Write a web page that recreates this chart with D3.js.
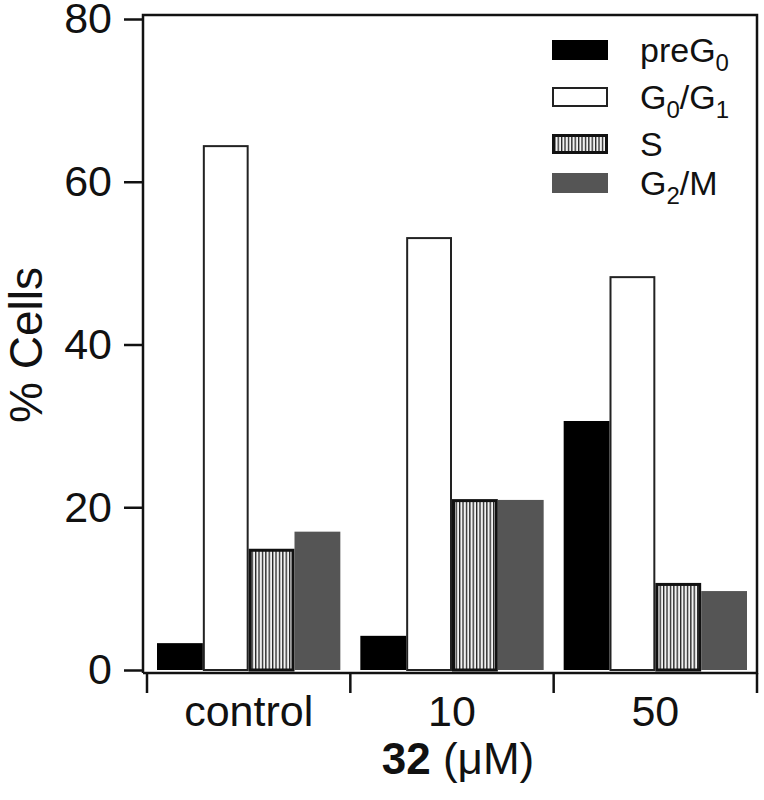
<!DOCTYPE html>
<html><head><meta charset="utf-8">
<script src="https://cdn.jsdelivr.net/npm/d3@7"></script>
<style>
body{margin:0;background:#fff;}
svg{display:block;}
text{font-family:"Liberation Sans",Arial,Helvetica,sans-serif;fill:#111;}
</style>
</head><body>
<svg id="chart" width="764" height="800"></svg>
<script>
// ---- data ----
const categories = ["control", "10", "50"];
const seriesKeys = ["preG0", "G0G1", "S", "G2M"];
const legendLabels = ["preG_0", "G_0/G_1", "S", "G_2/M"];
const preG0 = [3.3, 4.2, 30.6];
const G0G1 = [64.5, 53.2, 48.4];
const Sphase = [14.9, 21.0, 10.7];
const G2M = [17.0, 20.9, 9.7];
const yTicks = [0, 20, 40, 60, 80];
const yLabel = "% Cells";
const xLabelBold = "32";
const xLabelRest = " (\u03BCM)";

const seriesValues = {preG0: preG0, G0G1: G0G1, S: Sphase, G2M: G2M};

// ---- layout ----
const svg = d3.select("#chart");
const frame = {left: 143, right: 757, top: 15, bottom: 673};
const y = d3.scaleLinear().domain([0, 80]).range([670, 19]);
const xGroup = d3.scaleBand().domain(categories).range([147, 757]).padding(0);
const bw = xGroup.bandwidth();
const xInner = d3.scaleBand().domain(seriesKeys).range([10, bw - 10]).padding(0);

// pattern for S
const defs = svg.append("defs");
const pat = defs.append("pattern").attr("id", "stripes")
  .attr("patternUnits", "userSpaceOnUse").attr("width", 3.4).attr("height", 10);
pat.append("rect").attr("width", 3.4).attr("height", 10).attr("fill", "#f2f2f2");
pat.append("rect").attr("width", 1.3).attr("height", 10).attr("fill", "#222");

const styles = {
  preG0: {fill: "#000", stroke: "none", sw: 0},
  G0G1: {fill: "#fff", stroke: "#222", sw: 2},
  S: {fill: "url(#stripes)", stroke: "#111", sw: 3},
  G2M: {fill: "#555", stroke: "none", sw: 0}
};

// bars
const rows = [];
categories.forEach((c, i) => seriesKeys.forEach(k => rows.push({c, k, v: seriesValues[k][i]})));
svg.append("g").selectAll("rect").data(rows).join("rect")
  .attr("x", d => xGroup(d.c) + xInner(d.k) + styles[d.k].sw / 2)
  .attr("width", d => xInner.bandwidth() - styles[d.k].sw)
  .attr("y", d => y(d.v) + styles[d.k].sw / 2)
  .attr("height", d => Math.max(0, y(0) - y(d.v) - styles[d.k].sw / 2))
  .attr("fill", d => styles[d.k].fill)
  .attr("stroke", d => styles[d.k].stroke)
  .attr("stroke-width", d => styles[d.k].sw);

// frame
const fr = svg.append("g").attr("stroke", "#111").attr("stroke-width", 2.5).attr("fill", "none");
fr.append("path").attr("d", `M${frame.left},${frame.bottom}V${frame.top}H${frame.right}V${frame.bottom}H${frame.left}`)
  .attr("stroke-linejoin", "miter");

// y axis
const yAxis = d3.axisLeft(y).tickValues(yTicks).tickSize(19).tickSizeOuter(0).tickPadding(12);
const gy = svg.append("g").attr("transform", `translate(${frame.left},0)`).call(yAxis);
gy.select(".domain").remove();
gy.selectAll(".tick line").attr("stroke", "#111").attr("stroke-width", 2.5);
gy.selectAll(".tick text").attr("font-size", 43).attr("font-family", '"Liberation Sans",Arial,sans-serif').attr("fill", "#111");

// x axis ticks at group boundaries
const bounds = categories.map(c => xGroup(c)).concat([xGroup(categories[categories.length - 1]) + bw]);
svg.append("g").selectAll("line").data(bounds).join("line")
  .attr("x1", d => d).attr("x2", d => d)
  .attr("y1", frame.bottom).attr("y2", frame.bottom + 20)
  .attr("stroke", "#111").attr("stroke-width", 2.5);
svg.append("g").selectAll("text").data(categories).join("text")
  .attr("x", d => xGroup(d) + bw / 2).attr("y", 726)
  .attr("text-anchor", "middle").attr("font-size", 43).text(d => d);

// x title
const xt = svg.append("text").attr("x", 458).attr("y", 774).attr("text-anchor", "middle").attr("font-size", 44);
xt.append("tspan").attr("font-weight", "bold").text(xLabelBold);
xt.append("tspan").text(xLabelRest);

// y title
svg.append("text").attr("transform", "translate(42,345) rotate(-90)")
  .attr("text-anchor", "middle").attr("font-size", 46).text(yLabel);

// legend
const legendRowsY = [40, 87, 134, 173];
const lg = svg.append("g");
seriesKeys.forEach((k, i) => {
  const sw = styles[k].sw;
  lg.append("rect")
    .attr("x", 552 + sw / 2).attr("y", legendRowsY[i] + sw / 2)
    .attr("width", 56 - sw).attr("height", 20 - sw)
    .attr("fill", styles[k].fill).attr("stroke", styles[k].stroke).attr("stroke-width", sw);
  const t = lg.append("text").attr("x", 640).attr("y", legendRowsY[i] + 22).attr("font-size", 34);
  const parts = legendLabels[i].split(/(_.)/).filter(s => s.length);
  let shifted = false;
  parts.forEach(p => {
    if (p[0] === "_") {
      t.append("tspan").attr("font-size", 24).attr("dy", 9).text(p.slice(1));
      shifted = true;
    } else {
      const ts = t.append("tspan").text(p);
      if (shifted) { ts.attr("dy", -9); shifted = false; }
    }
  });
});
</script>
</body></html>
